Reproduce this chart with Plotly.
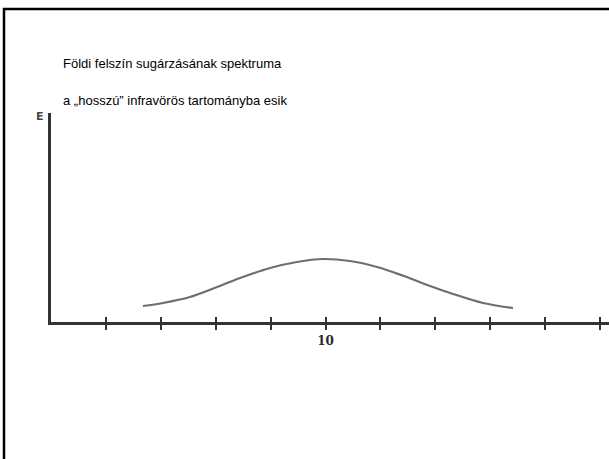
import plotly.graph_objects as go

# Wavelength (µm) and relative spectral energy E
wavelength = [3.35, 4.08, 5.06, 6.05, 6.99, 7.98, 8.96, 9.91, 10.89, 11.88, 12.86, 13.81, 14.54, 15.74, 16.83]
energy = [0.16, 0.19, 0.25, 0.35, 0.45, 0.54, 0.60, 0.63, 0.61, 0.55, 0.46, 0.36, 0.29, 0.19, 0.14]

tick_vals = [2, 4, 6, 8, 10, 12, 14, 16, 18, 20]
tick_text = ["", "", "", "", "<b>10</b>", "", "", "", "", ""]

title_lines = ["Földi felszín sugárzásának spektruma",
               "a „hosszú” infravörös tartományba esik"]
y_label = "E"

W, H = 609, 459
x0_px = 51
axis_y_px = 322
axis_top_px = 113

fig = go.Figure()
fig.add_trace(go.Scatter(
    x=wavelength, y=energy, mode="lines",
    line=dict(color="#6e6e6e", width=2.2, shape="spline", smoothing=1.0),
    hoverinfo="skip", showlegend=False,
))
# invisible trace to activate x2 overlay axis
fig.add_trace(go.Scatter(x=[], y=[], xaxis="x2", showlegend=False))

px_per_unit = 27.45
xmax = (W - x0_px) / px_per_unit
ydom = [(H - axis_y_px) / H, (H - axis_top_px) / H]
yrng = [0, (axis_y_px - axis_top_px) / 100]

axis_col = "#333333"
fig.update_layout(
    width=W, height=H,
    margin=dict(l=0, r=0, t=0, b=0),
    paper_bgcolor="white", plot_bgcolor="white",
    xaxis=dict(
        domain=[x0_px / W, 1], range=[0, xmax], anchor="y",
        showgrid=False, zeroline=False,
        showline=True, linecolor=axis_col, linewidth=2.5,
        tickvals=tick_vals, ticktext=tick_text,
        ticks="outside", ticklen=5, tickwidth=2, tickcolor=axis_col,
        tickfont=dict(family="DejaVu Serif", size=12, color="#2a2a2a"),
        ticklabelstandoff=1,
    ),
    xaxis2=dict(
        domain=[x0_px / W, 1], range=[0, xmax], anchor="y", overlaying="x",
        showgrid=False, zeroline=False, showline=False,
        tickvals=tick_vals, showticklabels=False,
        ticks="inside", ticklen=5, tickwidth=2, tickcolor=axis_col,
    ),
    yaxis=dict(
        domain=ydom, range=yrng, anchor="x",
        showgrid=False, zeroline=False,
        showline=True, linecolor=axis_col, linewidth=2.5,
        showticklabels=False, ticks="",
    ),
    font=dict(family="Liberation Sans, Arial, sans-serif", size=13, color="black"),
    shapes=[
        dict(type="line", xref="paper", yref="paper", x0=3 / W, x1=1, y0=(H - 9) / H, y1=(H - 9) / H,
             line=dict(color="black", width=2.5)),
        dict(type="line", xref="paper", yref="paper", x0=4 / W, x1=4 / W, y0=0, y1=(H - 8) / H,
             line=dict(color="black", width=2.5)),
    ],
    annotations=[
        dict(text=title_lines[0], xref="paper", yref="paper", x=61 / W, y=(H - 64) / H,
             xanchor="left", yanchor="middle", showarrow=False,
             font=dict(family="Liberation Sans, Arial, sans-serif", size=13, color="black")),
        dict(text=title_lines[1], xref="paper", yref="paper", x=61 / W, y=(H - 101) / H,
             xanchor="left", yanchor="middle", showarrow=False,
             font=dict(family="Liberation Sans, Arial, sans-serif", size=13, color="black")),
        dict(text="<b>" + y_label + "</b>", xref="paper", yref="paper", x=40 / W, y=(H - 117) / H,
             xanchor="center", yanchor="middle", showarrow=False,
             font=dict(family="DejaVu Sans", size=11, color="#444444")),
    ],
)

fig.write_html("out.html", config={"displayModeBar": False},
               post_script="document.body.style.margin='0px';")
